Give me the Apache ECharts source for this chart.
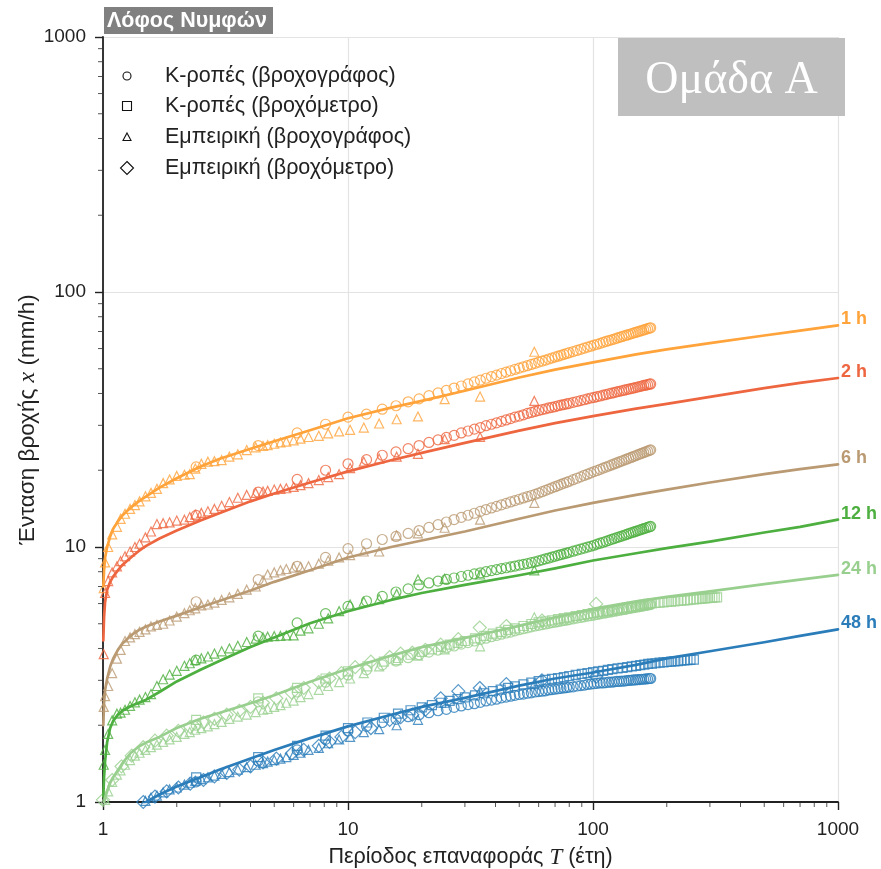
<!DOCTYPE html>
<html><head><meta charset="utf-8">
<script src="https://cdn.jsdelivr.net/npm/echarts@6/dist/echarts.min.js"></script>
<style>html,body{margin:0;padding:0;background:#fff}#c{width:881px;height:869px}</style>
</head><body><div id="c"></div>
<script>
// ---------- DATA ----------
// Return period T for fitted curves
const tL = [1.003, 1.01, 1.02, 1.04, 1.07, 1.1, 1.15, 1.2, 1.3, 1.4, 1.5, 1.7, 2, 2.5, 3, 4, 5, 7, 10, 15, 20, 30, 50, 70, 100, 150, 200, 300, 500, 700, 1000];
const line1h = [7.0, 8.1, 9.1, 10.0, 11.0, 11.8, 12.6, 13.3, 14.3, 15.1, 15.8, 17.1, 18.6, 20.7, 22.2, 24.3, 26.0, 28.7, 32.0, 35.2, 37.4, 41.0, 46.2, 49.6, 53.0, 56.9, 59.6, 63.0, 67.5, 70.5, 74.0];
const line2h = [4.3, 5.3, 6.1, 6.8, 7.3, 7.65, 8.1, 8.5, 9.1, 9.65, 10.1, 10.8, 11.6, 12.7, 13.6, 15.1, 16.2, 17.9, 19.8, 21.9, 23.4, 25.6, 28.6, 30.6, 32.6, 34.9, 36.4, 38.8, 42.0, 44.0, 46.0];
const line6h = [2.0, 2.45, 2.75, 3.05, 3.4, 3.65, 3.95, 4.18, 4.5, 4.72, 4.88, 5.1, 5.38, 5.8, 6.15, 6.75, 7.3, 8.1, 9.1, 10.0, 10.6, 11.5, 12.9, 13.9, 14.9, 16.0, 16.8, 17.9, 19.3, 20.2, 21.1];
const line12h = [1.05, 1.25, 1.45, 1.72, 1.95, 2.08, 2.2, 2.28, 2.38, 2.45, 2.52, 2.7, 2.97, 3.3, 3.58, 4.05, 4.42, 5.02, 5.6, 6.2, 6.6, 7.1, 7.75, 8.25, 8.85, 9.45, 9.9, 10.5, 11.4, 12.0, 12.8];
const line24h = [0.95, 0.99, 1.04, 1.1, 1.19, 1.25, 1.33, 1.42, 1.56, 1.65, 1.71, 1.8, 1.95, 2.12, 2.24, 2.44, 2.62, 2.96, 3.33, 3.75, 4.05, 4.4, 4.9, 5.3, 5.72, 6.12, 6.37, 6.7, 7.15, 7.45, 7.77];
const line48h = [null, null, null, null, null, null, null, null, null, 0.96, 1.0, 1.07, 1.15, 1.25, 1.34, 1.48, 1.6, 1.78, 1.98, 2.2, 2.36, 2.56, 2.86, 3.05, 3.22, 3.45, 3.66, 3.9, 4.23, 4.48, 4.75];

// K-moments (recording gauge) – circles
const tK = [2.4, 4.3, 6.2, 8.1, 10, 11.9, 13.8, 15.7, 17.6, 19.5, 21.4, 23.3, 25.2, 27.1, 29, 30.9, 32.8, 34.7, 36.6, 38.5, 40.4, 42.3, 44.2, 46.1, 48, 50, 52, 54, 56, 58, 60, 62, 64, 66, 68, 70, 72, 74, 76, 78, 80, 83, 86, 89, 92, 95, 98, 101, 104, 107, 110, 113, 116, 119, 122, 125, 128, 131, 134, 137, 140, 143, 146, 149, 152, 155, 158, 161, 164, 167, 170, 172];
const kR1h = [20.6, 25.0, 28.0, 30.3, 32.3, 33.2, 34.7, 35.8, 37.1, 38.1, 39.2, 40.2, 41.1, 42.0, 42.8, 43.6, 44.4, 45.1, 45.9, 46.6, 47.2, 47.9, 48.5, 49.1, 49.7, 50.3, 50.9, 51.4, 52.0, 52.5, 53.1, 53.6, 54.1, 54.6, 55.1, 55.6, 56.0, 56.5, 56.9, 57.4, 57.8, 58.4, 59.0, 59.6, 60.2, 60.8, 61.3, 61.9, 62.4, 62.9, 63.5, 64.0, 64.5, 64.9, 65.4, 65.9, 66.4, 66.8, 67.3, 67.7, 68.1, 68.6, 69.0, 69.4, 69.8, 70.2, 70.6, 71.0, 71.4, 71.8, 72.2, 72.4];
const kR2h = [13.3, 16.4, 18.4, 20.0, 21.2, 22.0, 22.9, 23.6, 24.3, 25.0, 25.7, 26.3, 26.9, 27.4, 28.0, 28.5, 29.0, 29.4, 29.9, 30.3, 30.7, 31.1, 31.5, 31.9, 32.3, 32.6, 33.0, 33.4, 33.7, 34.0, 34.3, 34.6, 34.8, 35.1, 35.3, 35.5, 35.8, 36.0, 36.2, 36.4, 36.6, 36.9, 37.2, 37.5, 37.8, 38.1, 38.4, 38.6, 38.9, 39.1, 39.4, 39.6, 39.9, 40.1, 40.3, 40.6, 40.8, 41.0, 41.2, 41.4, 41.6, 41.8, 42.0, 42.2, 42.4, 42.6, 42.8, 43.0, 43.1, 43.3, 43.5, 43.6];
const kR6h = [6.1, 7.45, 8.4, 9.1, 9.85, 10.3, 10.7, 11.0, 11.3, 11.6, 11.93, 12.24, 12.53, 12.81, 13.07, 13.32, 13.56, 13.79, 14.02, 14.23, 14.43, 14.64, 14.83, 15.02, 15.2, 15.39, 15.57, 15.75, 15.92, 16.08, 16.28, 16.48, 16.68, 16.87, 17.06, 17.24, 17.42, 17.6, 17.78, 17.94, 18.11, 18.36, 18.6, 18.84, 19.08, 19.3, 19.53, 19.75, 19.95, 20.17, 20.38, 20.58, 20.78, 20.98, 21.17, 21.36, 21.55, 21.74, 21.92, 22.1, 22.28, 22.45, 22.63, 22.8, 22.97, 23.14, 23.3, 23.46, 23.62, 23.78, 23.94, 24.04];
const kR12h = [3.6, 4.47, 5.04, 5.48, 5.85, 6.14, 6.4, 6.66, 6.85, 7.1, 7.23, 7.35, 7.46, 7.56, 7.66, 7.75, 7.84, 7.92, 8.0, 8.08, 8.15, 8.23, 8.29, 8.36, 8.42, 8.49, 8.55, 8.61, 8.68, 8.74, 8.82, 8.9, 8.98, 9.05, 9.13, 9.2, 9.27, 9.34, 9.4, 9.47, 9.53, 9.63, 9.72, 9.81, 9.9, 9.99, 10.07, 10.16, 10.26, 10.35, 10.44, 10.53, 10.62, 10.71, 10.79, 10.88, 10.96, 11.04, 11.12, 11.2, 11.28, 11.36, 11.43, 11.51, 11.58, 11.66, 11.73, 11.8, 11.87, 11.94, 12.0, 12.05];
const kR24h = [2.0, 2.47, 2.7, 2.95, 3.15, 3.3, 3.45, 3.57, 3.68, 3.78, 3.87, 3.94, 4.02, 4.09, 4.16, 4.22, 4.28, 4.34, 4.39, 4.45, 4.5, 4.55, 4.6, 4.64, 4.69, 4.74, 4.78, 4.82, 4.86, 4.9, 4.93, 4.96, 4.99, 5.02, 5.05, 5.07, 5.1, 5.12, 5.15, 5.17, 5.19, 5.23, 5.26, 5.29, 5.32, 5.36, 5.38, 5.41, 5.44, 5.47, 5.5, 5.52, 5.55, 5.57, 5.6, 5.62, 5.65, 5.67, 5.69, 5.71, 5.74, 5.76, 5.78, 5.8, 5.82, 5.84, 5.86, 5.88, 5.9, 5.92, 5.94, 5.95];
const kR48h = [1.2, 1.45, 1.6, 1.76, 1.9, 1.98, 2.05, 2.11, 2.16, 2.2, 2.24, 2.28, 2.31, 2.35, 2.38, 2.41, 2.43, 2.46, 2.49, 2.51, 2.53, 2.56, 2.58, 2.6, 2.62, 2.64, 2.65, 2.67, 2.68, 2.7, 2.71, 2.72, 2.73, 2.75, 2.76, 2.77, 2.78, 2.79, 2.8, 2.81, 2.82, 2.83, 2.85, 2.86, 2.87, 2.89, 2.9, 2.91, 2.92, 2.93, 2.93, 2.94, 2.95, 2.95, 2.96, 2.97, 2.97, 2.98, 2.98, 2.99, 3.0, 3.0, 3.01, 3.01, 3.02, 3.02, 3.03, 3.03, 3.04, 3.04, 3.05, 3.05];

// Empirical (recording gauge) – triangles
const tE = [57.6, 34.6, 24.8, 19.3, 15.8, 13.4, 11.6, 10.2, 9.2, 8.3, 7.6, 6.9, 6.4, 6.0, 5.6, 5.3, 5.0, 4.7, 4.5, 4.2, 3.86, 3.55, 3.28, 3.05, 2.85, 2.68, 2.52, 2.38, 2.26, 2.15, 2.0, 1.87, 1.76, 1.66, 1.57, 1.49, 1.41, 1.35, 1.29, 1.23, 1.18, 1.14, 1.09, 1.05, 1.02, 1.007];
const eR1h = [58.3, 38.9, 38.0, 32.5, 31.7, 30.5, 29.4, 28.8, 28.4, 27.9, 27.3, 27.0, 26.6, 26.2, 25.9, 25.7, 25.4, 25.1, 24.9, 24.6, 24.0, 23.1, 22.6, 21.9, 21.7, 21.6, 21.2, 20.3, 19.3, 19.2, 19.0, 18.4, 17.8, 16.9, 16.3, 15.8, 15.1, 14.6, 14.1, 13.5, 12.9, 12.0, 11.2, 10.0, 8.7, 6.9];
const eR2h = [37.4, 27.0, 26.5, 23.2, 22.6, 22.2, 21.6, 20.4, 19.3, 18.8, 18.3, 17.8, 17.5, 17.2, 17.0, 16.9, 16.8, 16.6, 16.5, 16.3, 16.0, 15.6, 15.0, 14.5, 14.1, 13.8, 13.6, 13.4, 13.1, 12.8, 12.7, 12.5, 12.4, 12.3, 11.5, 10.9, 10.3, 10.0, 9.6, 9.2, 8.8, 8.4, 7.95, 7.35, 6.6, 3.8];
const eR6h = [14.9, 12.8, 11.9, 11.3, 11.1, 9.6, 9.6, 9.3, 9.1, 8.85, 8.6, 8.4, 8.35, 8.3, 8.2, 8.1, 7.95, 7.8, 7.4, 7.0, 6.8, 6.55, 6.35, 6.2, 6.05, 5.95, 5.9, 5.75, 5.65, 5.5, 5.33, 5.15, 5.0, 4.95, 4.88, 4.75, 4.65, 4.55, 4.42, 4.28, 3.95, 3.65, 3.2, 2.85, 2.6, 2.36];
const eR12h = [8.1, 7.8, 7.5, 7.45, 6.55, 6.25, 6.1, 5.95, 5.6, 5.25, 5.0, 4.8, 4.7, 4.5, 4.5, 4.48, 4.47, 4.45, 4.42, 4.37, 4.24, 4.1, 4.0, 3.9, 3.82, 3.72, 3.66, 3.6, 3.5, 3.42, 3.27, 3.16, 3.03, 2.85, 2.65, 2.58, 2.52, 2.46, 2.38, 2.3, 2.24, 2.22, 2.09, 1.85, 1.6, 1.4];
const eR24h = [5.3, 4.08, 3.97, 3.75, 3.6, 3.4, 3.2, 3.05, 2.95, 2.85, 2.75, 2.65, 2.58, 2.5, 2.45, 2.4, 2.36, 2.32, 2.3, 2.25, 2.2, 2.16, 2.12, 2.06, 2.02, 1.98, 1.95, 1.92, 1.88, 1.85, 1.8, 1.76, 1.72, 1.68, 1.64, 1.6, 1.56, 1.52, 1.46, 1.4, 1.33, 1.28, 1.2, 1.1, 1.02, 0.95];
const eR48h = [2.9, 2.72, 2.45, 2.1, 2.0, 1.93, 1.88, 1.8, 1.76, 1.7, 1.63, 1.6, 1.56, 1.53, 1.5, 1.48, 1.46, 1.44, 1.42, 1.4, 1.37, 1.34, 1.31, 1.29, 1.27, 1.25, 1.23, 1.21, 1.19, 1.17, 1.14, 1.12, 1.09, 1.06, 1.04, 1.01, 0.98, 0.96, 0.94, 0.92, 0.9, 0.88, 0.85, 0.82, 0.78, 0.75];

// K-moments (daily gauge) – squares
const tKg24 = [2.4, 4.3, 6.2, 8.1, 10, 12, 14, 16, 18, 20, 22, 24, 26, 28, 30, 33, 36, 39, 42, 45, 48, 52, 56, 60, 64, 68, 72, 76, 80, 85, 90, 95, 100, 105, 110, 115, 120, 126, 132, 138, 144, 150, 156, 162, 168, 174, 180, 187, 194, 201, 208, 215, 222, 229, 236, 243, 250, 258, 265, 272, 279, 286, 293, 300, 307, 314, 321];
const kG24h = [2.1, 2.55, 2.8, 3.05, 3.25, 3.4, 3.55, 3.67, 3.78, 3.88, 3.97, 4.06, 4.14, 4.21, 4.28, 4.38, 4.48, 4.57, 4.65, 4.73, 4.8, 4.9, 4.99, 5.06, 5.11, 5.16, 5.21, 5.26, 5.3, 5.36, 5.41, 5.45, 5.5, 5.54, 5.58, 5.62, 5.66, 5.71, 5.75, 5.79, 5.83, 5.87, 5.91, 5.94, 5.98, 6.01, 6.03, 6.05, 6.07, 6.09, 6.11, 6.12, 6.14, 6.16, 6.17, 6.19, 6.21, 6.23, 6.24, 6.26, 6.27, 6.28, 6.3, 6.31, 6.32, 6.34, 6.35];
const tKg48 = [2.4, 4.3, 6.2, 8.1, 10, 12, 14, 16, 18, 20, 22, 24, 26, 28, 30, 33, 36, 39, 42, 45, 48, 52, 56, 60, 64, 68, 72, 76, 80, 85, 90, 95, 100, 105, 110, 115, 120, 126, 132, 138, 144, 150, 156, 162, 168, 174, 180, 187, 194, 201, 208, 215, 222, 229, 236, 243, 250, 258];
const kG48h = [1.25, 1.5, 1.66, 1.82, 1.95, 2.05, 2.14, 2.22, 2.29, 2.35, 2.4, 2.45, 2.49, 2.53, 2.57, 2.62, 2.67, 2.72, 2.76, 2.8, 2.84, 2.89, 2.94, 2.98, 3.01, 3.04, 3.06, 3.09, 3.12, 3.15, 3.18, 3.2, 3.23, 3.25, 3.27, 3.3, 3.32, 3.34, 3.36, 3.38, 3.4, 3.42, 3.44, 3.46, 3.48, 3.49, 3.5, 3.52, 3.53, 3.54, 3.55, 3.56, 3.57, 3.58, 3.59, 3.6, 3.61, 3.62];

// Empirical (daily gauge) – diamonds
const tEg = [103, 61.9, 44.3, 34.5, 28.2, 23.9, 20.7, 18.3, 16.4, 14.8, 12.4, 10.7, 9.4, 8.4, 7.6, 6.6, 5.9, 5.1, 4.5, 4.0, 3.6, 3.2, 2.85, 2.57, 2.27, 2.03, 1.82, 1.63, 1.46, 1.31, 1.19, 1.09, 1.0];
const eG24h = [5.98, 5.15, 4.9, 4.83, 4.35, 4.14, 3.95, 3.85, 3.82, 3.7, 3.55, 3.38, 3.2, 3.05, 2.95, 2.8, 2.68, 2.55, 2.45, 2.36, 2.28, 2.2, 2.12, 2.05, 1.97, 1.9, 1.82, 1.74, 1.64, 1.52, 1.38, 1.22, 1.02];
const eG48h = [3.1, 3.0, 2.9, 2.8, 2.72, 2.55, 2.3, 2.2, 2.15, 2.1, 1.95, 1.88, 1.8, 1.72, 1.66, 1.6, 1.55, 1.48, 1.43, 1.38, 1.34, 1.3, 1.26, 1.22, 1.18, 1.14, 1.1, 1.05, 1.0, 0.95, 0.9, 0.85, 0.8];

// tick values / labels
const minorTicks = [2, 3, 4, 5, 6, 7, 8, 9, 20, 30, 40, 50, 60, 70, 80, 90, 200, 300, 400, 500, 600, 700, 800, 900];
const durations = ['1 h', '2 h', '6 h', '12 h', '24 h', '48 h'];
const legendNames = ['Κ-ροπές (βροχογράφος)', 'Κ-ροπές (βροχόμετρο)', 'Εμπειρική (βροχογράφος)', 'Εμπειρική (βροχόμετρο)'];

// ---------- CHART ----------
const FONT = '"Liberation Sans", Arial, sans-serif';
const COL = {'1 h': '#FFA33A', '2 h': '#EE6640', '6 h': '#BA9A72', '12 h': '#4DAF3F', '24 h': '#99CF8E', '48 h': '#2B7DBA'};

function pairs(ts, vs) {
  const out = [];
  for (let i = 0; i < ts.length; i++) if (vs[i] != null) out.push([ts[i], vs[i]]);
  return out;
}
function marks(ts, vs, dur, symbol, size) {
  return {type: 'scatter', data: pairs(ts, vs), symbol: symbol, symbolSize: size, silent: true, clip: true, z: 2,
    itemStyle: {color: 'rgba(255,255,255,0)', borderColor: COL[dur], borderWidth: 1.2}};
}
function curve(vs, dur) {
  return {type: 'line', data: pairs(tL, vs), symbol: 'none', showSymbol: false, silent: true, clip: true, z: 4,
    smooth: false,
    lineStyle: {color: COL[dur], width: 2.7, join: 'round', cap: 'round'}, itemStyle: {color: COL[dur]},
    endLabel: {show: true, formatter: dur, color: COL[dur], fontSize: 18, fontWeight: 'bold', fontFamily: FONT, distance: 3, offset: [0, -6]}};
}

const series = [
  marks(tK, kR1h, '1 h', 'circle', 10), marks(tE, eR1h, '1 h', 'triangle', 9),
  marks(tK, kR2h, '2 h', 'circle', 10), marks(tE, eR2h, '2 h', 'triangle', 9),
  marks(tK, kR6h, '6 h', 'circle', 10), marks(tE, eR6h, '6 h', 'triangle', 9),
  marks(tK, kR12h, '12 h', 'circle', 10), marks(tE, eR12h, '12 h', 'triangle', 9),
  marks(tK, kR24h, '24 h', 'circle', 10), marks(tE, eR24h, '24 h', 'triangle', 9),
  marks(tKg24, kG24h, '24 h', 'rect', 9), marks(tEg, eG24h, '24 h', 'diamond', 13),
  marks(tK, kR48h, '48 h', 'circle', 10), marks(tE, eR48h, '48 h', 'triangle', 9),
  marks(tKg48, kG48h, '48 h', 'rect', 9), marks(tEg, eG48h, '48 h', 'diamond', 13),
  curve(line1h, '1 h'), curve(line2h, '2 h'), curve(line6h, '6 h'),
  curve(line12h, '12 h'), curve(line24h, '24 h'), curve(line48h, '48 h'),
  {type: 'custom', silent: true, clip: false, z: 6, data: minorTicks.map(v => [v, 1]),
    renderItem: (p, api) => { const c = api.coord([api.value(0), api.value(1)]);
      return {type: 'line', shape: {x1: c[0], y1: c[1] + 1, x2: c[0], y2: c[1] + 5}, style: {stroke: '#555', lineWidth: 1}}; }},
  {type: 'custom', silent: true, clip: false, z: 6, data: minorTicks.map(v => [1, v]),
    renderItem: (p, api) => { const c = api.coord([api.value(0), api.value(1)]);
      return {type: 'line', shape: {x1: c[0] - 5, y1: c[1], x2: c[0] - 1, y2: c[1]}, style: {stroke: '#555', lineWidth: 1}}; }}
];

// legend drawn with graphic elements (black outline markers)
const lgX = 127, lgTX = 165, lgY = [76, 106, 137, 168];
const legendIcons = [
  {type: 'circle', shape: {cx: lgX, cy: lgY[0], r: 4}},
  {type: 'rect', shape: {x: lgX - 4.5, y: lgY[1] - 4.5, width: 9, height: 9}},
  {type: 'polygon', shape: {points: [[lgX, lgY[2] - 4], [lgX + 4, lgY[2] + 3.5], [lgX - 4, lgY[2] + 3.5]]}},
  {type: 'polygon', shape: {points: [[lgX, lgY[3] - 6.5], [lgX + 6.5, lgY[3]], [lgX, lgY[3] + 6.5], [lgX - 6.5, lgY[3]]]}}
].map(o => Object.assign(o, {style: {fill: 'none', stroke: '#111', lineWidth: 1.1}, z: 10}));
const legendTexts = legendNames.map((n, i) => ({type: 'text', x: lgTX, y: lgY[i], z: 10,
  style: {text: n, font: '21.5px ' + FONT, fill: '#222', verticalAlign: 'middle', align: 'left'}}));

const chart = echarts.init(document.getElementById('c'), null, {renderer: 'canvas'});
chart.setOption({
  animation: false,
  backgroundColor: '#fff',
  grid: {left: 103, top: 37, width: 735, height: 765, outerBoundsMode: 'none', containLabel: false},
  xAxis: {
    type: 'log', logBase: 10, min: 1, max: 1000,
    name: '{a|Περίοδος επαναφοράς }{b|T}{a| (έτη)}', nameLocation: 'middle', nameGap: 44, nameMoveOverlap: false,
    nameTextStyle: {rich: {a: {fontSize: 21.5, fontFamily: FONT, color: '#222'}, b: {fontSize: 23, fontFamily: '"Liberation Serif", serif', fontStyle: 'italic', color: '#222'}}},
    axisLine: {show: true, onZero: false, lineStyle: {color: '#222', width: 1.8}},
    axisTick: {show: true, length: 8, lineStyle: {color: '#222', width: 1.4}},
    minorTick: {show: false}, minorSplitLine: {show: false},
    axisLabel: {fontSize: 19, color: '#222', fontFamily: FONT, margin: 18, formatter: v => String(Math.round(v))},
    splitLine: {show: true, lineStyle: {color: '#e3e3e3', width: 1.2}}
  },
  yAxis: {
    type: 'log', logBase: 10, min: 1, max: 1000,
    name: '{a|Ένταση βροχής }{b|x}{a| (mm/h)}', nameLocation: 'middle', nameGap: 63, nameRotate: 90, nameMoveOverlap: false,
    nameTextStyle: {rich: {a: {fontSize: 22.5, fontFamily: FONT, color: '#222'}, b: {fontSize: 24, fontFamily: '"Liberation Serif", serif', fontStyle: 'italic', color: '#222'}}},
    axisLine: {show: true, onZero: false, lineStyle: {color: '#222', width: 1.8}},
    axisTick: {show: true, length: 8, lineStyle: {color: '#222', width: 1.4}},
    minorTick: {show: false}, minorSplitLine: {show: false},
    axisLabel: {fontSize: 19, color: '#222', fontFamily: FONT, margin: 17, formatter: v => String(Math.round(v))},
    splitLine: {show: true, lineStyle: {color: '#e3e3e3', width: 1.2}}
  },
  graphic: [
    {type: 'rect', shape: {x: 104, y: 7, width: 169, height: 27}, style: {fill: '#808080'}, z: 10},
    {type: 'text', x: 107, y: 21, z: 11, style: {text: 'Λόφος Νυμφών', font: 'bold 21.5px ' + FONT, fill: '#fff', verticalAlign: 'middle'}},
    {type: 'rect', shape: {x: 618, y: 38, width: 227, height: 78}, style: {fill: '#bfbfbf'}, z: 10},
    {type: 'text', x: 731.5, y: 81, z: 11, style: {text: 'Ομάδα Α', font: '46px "Liberation Serif", serif', fill: '#fff', align: 'center', verticalAlign: 'middle'}}
  ].concat(legendIcons, legendTexts),
  series: series
});
</script>
</body></html>
